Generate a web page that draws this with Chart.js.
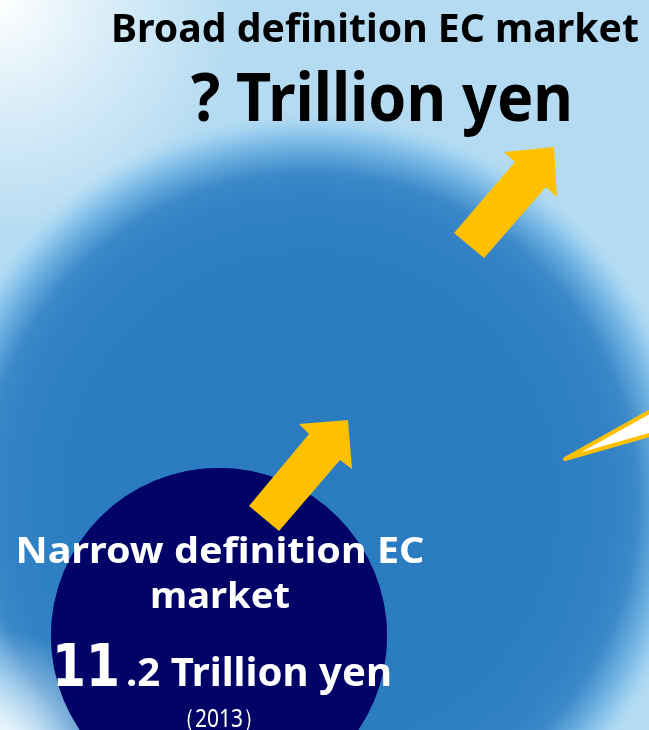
<!DOCTYPE html>
<html>
<head>
<meta charset="utf-8">
<script src="https://cdn.jsdelivr.net/npm/chart.js@4.4.1/dist/chart.umd.min.js"></script>
<style>
  html, body { margin: 0; padding: 0; background: #b4dbf2; overflow: hidden; }
  #wrap { width: 649px; height: 730px; position: relative; }
</style>
</head>
<body>
<div id="wrap"><canvas id="ecMarket"></canvas></div>
<script>
// data
const marketNames = ["Broad definition EC market", "Narrow definition EC market"];
const marketValues = [null, 11.2]; // trillion yen, broad one is unknown
const marketYears = ["", "2013"];
const valueUnit = "Trillion yen";

// layout, in scale units (scales run 0..649 / 0..730 top-down)
const circleX = [310, 219];
const circleY = [500, 636];
const circleR = [390, 168];

const arrows = [
    [[249, 506], [309, 434], [299, 424], [348, 420], [352, 469], [340, 460], [279, 531]],
    [[454, 233], [515, 162], [504, 152], [554, 147], [557, 197], [546, 187], [484, 258]],
];
const wedge = [[565, 459], [660, 406], [660, 432]];

const YELLOW = "#ffc000";
const NAVY = "#020366";
const MAIN_FONT = "'Noto Sans', 'Open Sans', sans-serif";

// bubbles are big here, don't let them shrink the chart area
Chart.BubbleController.prototype.getMaxOverflow = function () {
    return 0;
};

function valueText(v) {
    return v === null ? "?" : v.toFixed(1);
}

function drawFit(ctx, text, cx, base, size, width, font, weight, color) {
    ctx.save();
    ctx.font = weight + " " + size + "px " + font;
    const w = ctx.measureText(text).width;
    ctx.translate(cx, base);
    ctx.scale(width / w, 1);
    ctx.textAlign = "center";
    ctx.textBaseline = "alphabetic";
    ctx.fillStyle = color;
    ctx.fillText(text, 0, 0);
    ctx.restore();
}

// background light blue with white corners
const backdrop = {
    id: "backdrop",
    beforeDraw(chart) {
        const { ctx, width, height } = chart;
        ctx.save();
        ctx.fillStyle = "#b4dbf2";
        ctx.fillRect(0, 0, width, height);
        let g = ctx.createRadialGradient(0, 0, 0, 0, 0, 240);
        g.addColorStop(0, "rgba(255,255,255,1)");
        g.addColorStop(0.35, "rgba(255,255,255,0.6)");
        g.addColorStop(1, "rgba(255,255,255,0)");
        ctx.fillStyle = g;
        ctx.fillRect(0, 0, width, height);
        ctx.restore();
    },
};

// arrows, callout and the labels
const overlay = {
    id: "overlay",
    afterDatasetsDraw(chart) {
        const { ctx, scales, height } = chart;
        const px = (p) => [scales.x.getPixelForValue(p[0]), scales.y.getPixelForValue(p[1])];

        ctx.save();
        // pale lower-left corner over the big circle
        const g = ctx.createRadialGradient(0, height + 20, 0, 0, height + 20, 120);
        g.addColorStop(0, "rgba(255,255,255,0.85)");
        g.addColorStop(1, "rgba(255,255,255,0)");
        ctx.fillStyle = g;
        ctx.fillRect(0, height - 140, 140, 140);
        ctx.restore();

        // navy circle again on top of that corner glow
        const nx = scales.x.getPixelForValue(circleX[1]);
        const ny = scales.y.getPixelForValue(circleY[1]);
        ctx.save();
        ctx.beginPath();
        ctx.arc(nx, ny, circleR[1], 0, Math.PI * 2);
        ctx.fillStyle = NAVY;
        ctx.fill();

        // callout wedge
        ctx.beginPath();
        wedge.forEach((p, i) => {
            const [x, y] = px(p);
            i === 0 ? ctx.moveTo(x, y) : ctx.lineTo(x, y);
        });
        ctx.closePath();
        ctx.fillStyle = "#ffffff";
        ctx.fill();
        ctx.lineWidth = 4;
        ctx.lineJoin = "round";
        ctx.strokeStyle = YELLOW;
        ctx.stroke();

        // arrows
        ctx.fillStyle = YELLOW;
        arrows.forEach((pts) => {
            ctx.beginPath();
            pts.forEach((p, i) => {
                const [x, y] = px(p);
                i === 0 ? ctx.moveTo(x, y) : ctx.lineTo(x, y);
            });
            ctx.closePath();
            ctx.fill();
        });
        ctx.restore();

        // broad market labels
        drawFit(ctx, marketNames[0], 375, 42, 39, 528, MAIN_FONT, "bold", "#000000");
        drawFit(ctx, valueText(marketValues[0]) + " " + valueUnit, 382, 121, 66, 382, MAIN_FONT, "bold", "#000000");

        // narrow market labels
        const name = marketNames[1];
        const cut = name.lastIndexOf(" ");
        drawFit(ctx, name.slice(0, cut), 220, 563, 35, 409, MAIN_FONT, "bold", "#ffffff");
        drawFit(ctx, name.slice(cut + 1), 220, 608, 35, 140, MAIN_FONT, "bold", "#ffffff");

        const parts = valueText(marketValues[1]).split(".");
        drawFit(ctx, parts[0], 86, 686, 59, 68, "'DejaVu Sans', sans-serif", "bold", "#ffffff");
        drawFit(ctx, "." + parts[1] + " " + valueUnit, 259, 686, 39, 266, MAIN_FONT, "bold", "#ffffff");
        drawFit(ctx, "（" + marketYears[1] + "）", 219, 727, 26, 90, MAIN_FONT, "normal", "#ffffff");
    },
};

const ctxMarket = document.getElementById("ecMarket").getContext("2d");

new Chart(ctxMarket, {
    type: "bubble",
    data: {
        datasets: [
            {
                label: "EC market",
                data: marketNames.map((n, i) => ({ x: circleX[i], y: circleY[i], r: circleR[i] })),
                backgroundColor: (c) => {
                    if (c.dataIndex === 1) return NAVY;
                    const chart = c.chart;
                    if (!chart.chartArea) return "#2a7bc0";
                    const x = chart.scales.x.getPixelForValue(circleX[0]);
                    const y = chart.scales.y.getPixelForValue(circleY[0]);
                    const g = chart.ctx.createRadialGradient(x, y, 0, x, y, circleR[0]);
                    g.addColorStop(0, "#2a7bc0");
                    g.addColorStop(0.6, "#2b7cc1");
                    g.addColorStop(0.78, "#3282c5");
                    g.addColorStop(0.84, "#3d89c9");
                    g.addColorStop(0.9, "#6aaedf");
                    g.addColorStop(0.95, "#98ccee");
                    g.addColorStop(1, "rgba(180,219,242,0)");
                    return g;
                },
                borderWidth: 0,
                hoverBorderWidth: 0,
                clip: false,
            },
        ],
    },
    options: {
        responsive: true,
        maintainAspectRatio: false,
        animation: false,
        events: [],
        layout: { padding: 0 },
        scales: {
            x: { type: "linear", min: 0, max: 649, display: false },
            y: { type: "linear", min: 0, max: 730, reverse: true, display: false },
        },
        plugins: {
            legend: { display: false },
            tooltip: { enabled: false },
        },
    },
    plugins: [backdrop, overlay],
});
</script>
</body>
</html>
